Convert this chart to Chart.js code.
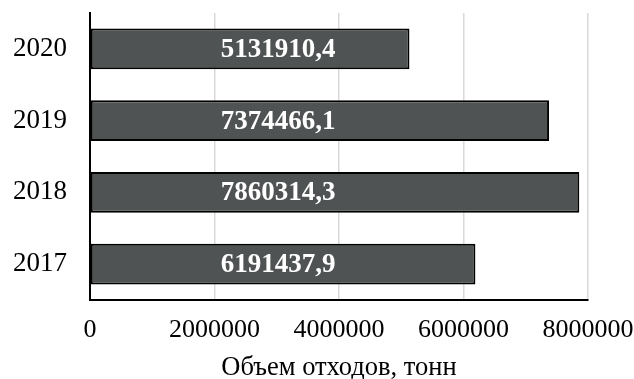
<!DOCTYPE html>
<html>
<head>
<meta charset="utf-8">
<script src="https://cdn.jsdelivr.net/npm/chart.js"></script>
<style>
  html, body { margin: 0; padding: 0; background: #fff; }
  #caja { width: 634px; height: 379px; }
</style>
</head>
<body>
<div id="caja"><canvas id="myChart"></canvas></div>
<script>
// Datos
//? años (de arriba hacia abajo)
const anios = ["2020", "2019", "2018", "2017"];
//? volumen de residuos, toneladas
const volumen = [5131910.4, 7374466.1, 7860314.3, 6191437.9];
//? marcas del eje x
const marcasX = [0, 2000000, 4000000, 6000000, 8000000];
//? título del eje
const tituloX = "Объем отходов, тонн";

// Estilos
const fuente = "'Liberation Serif', 'Times New Roman', serif";
const colorBarra = "#505354";

//? plugin para escribir el valor dentro de cada barra
const etiquetas = {
  id: "etiquetas",
  afterDatasetsDraw(chart) {
    const { ctx } = chart;
    const meta = chart.getDatasetMeta(0);
    ctx.save();
    ctx.font = "bold 27px " + fuente;
    ctx.fillStyle = "#ffffff";
    ctx.textAlign = "left";
    ctx.textBaseline = "middle";
    meta.data.forEach((barra, i) => {
      const texto = formatearValor(volumen[i]);
      ctx.fillText(texto, barra.base + 130, barra.y + 1);
    });
    ctx.restore();
  },
};

//? formato con coma decimal
function formatearValor(valor) {
  return valor.toFixed(1).replace(".", ",");
}

const data = {
  labels: anios,
  datasets: [
    {
      data: volumen,
      backgroundColor: colorBarra,
      borderColor: "#000000",
      borderWidth: 2,
      borderSkipped: false,
      barPercentage: 0.57,
      categoryPercentage: 1,
    },
  ],
};

const config = {
  type: "bar",
  data: data,
  plugins: [etiquetas],
  options: {
    indexAxis: "y",
    responsive: true,
    maintainAspectRatio: false,
    animation: false,
    layout: { padding: 0 },
    plugins: {
      legend: { display: false },
      tooltip: { enabled: false },
    },
    scales: {
      x: {
        min: marcasX[0],
        max: marcasX[marcasX.length - 1],
        afterBuildTicks: (eje) => {
          eje.ticks = marcasX.map((v) => ({ value: v }));
        },
        afterFit: (eje) => {
          //? tamaño fijo del eje
          eje.height = 79;
          eje.paddingLeft = 0;
          eje.paddingRight = 46;
        },
        grid: { color: "#d9d9d9", lineWidth: 1.5, drawTicks: false },
        border: { display: true, color: "#000000", width: 2 },
        ticks: {
          color: "#000000",
          font: { family: fuente, size: 26 },
          padding: 15,
          maxRotation: 0,
          callback: (v) => String(v),
        },
        title: {
          display: true,
          text: tituloX,
          color: "#000000",
          font: { family: fuente, size: 26.5 },
          padding: { top: 0, bottom: -5 },
        },
      },
      y: {
        afterFit: (eje) => {
          eje.width = 90;
          eje.paddingTop = 13;
          eje.paddingBottom = 0;
        },
        grid: { display: false, drawTicks: false },
        border: { display: true, color: "#000000", width: 2 },
        ticks: {
          color: "#000000",
          font: { family: fuente, size: 27 },
          padding: 23,
        },
      },
    },
  },
};

const ctx = document.getElementById("myChart");
new Chart(ctx, config);
</script>
</body>
</html>
